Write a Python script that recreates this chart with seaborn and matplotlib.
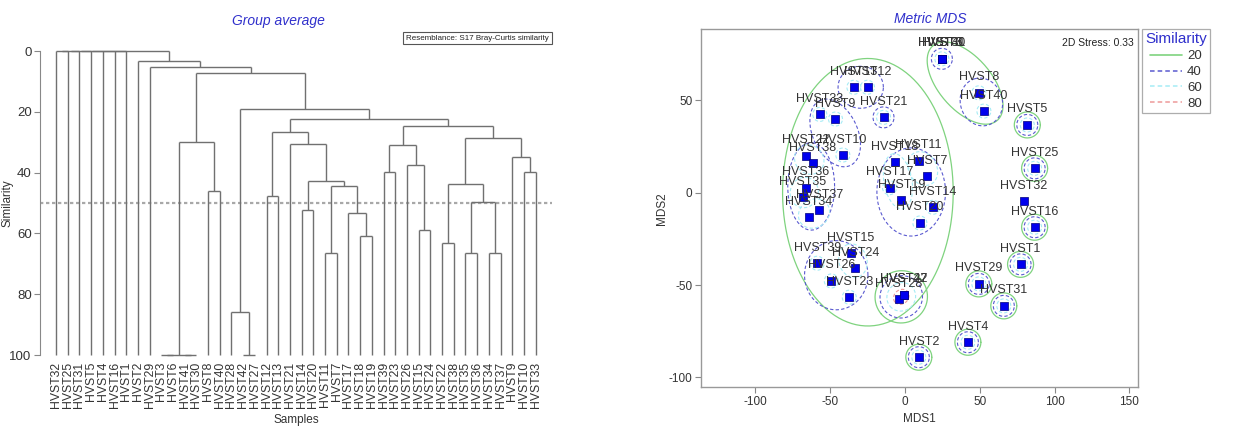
import numpy as np
import matplotlib
matplotlib.use("Agg")
import matplotlib.pyplot as plt
import seaborn as sns
import pandas as pd
from matplotlib import font_manager as fm
from matplotlib.lines import Line2D

# ---------------- dendrogram data ----------------
leaf_order = ["HVST32", "HVST25", "HVST31", "HVST5", "HVST4", "HVST16", "HVST1", "HVST2",
              "HVST29", "HVST3", "HVST6", "HVST41", "HVST30", "HVST8", "HVST40", "HVST28",
              "HVST42", "HVST27", "HVST12", "HVST13", "HVST21", "HVST14", "HVST20", "HVST11",
              "HVST7", "HVST17", "HVST18", "HVST19", "HVST39", "HVST23", "HVST26", "HVST15",
              "HVST24", "HVST22", "HVST38", "HVST35", "HVST36", "HVST34", "HVST37", "HVST9",
              "HVST10", "HVST33"]
# merges: child a, child b ("#k" = result of merge k), similarity
merge_a = ["HVST3", "HVST41", "#0", "HVST8", "#2", "HVST42", "HVST28", "HVST12", "HVST14",
           "HVST11", "HVST18", "HVST17", "#9", "#8", "HVST21", "#7", "HVST39", "HVST15",
           "HVST26", "#16", "HVST22", "HVST35", "HVST34", "#21", "#20", "HVST10", "HVST9",
           "#24", "#19", "#15", "#6", "#4", "HVST29", "HVST2", "HVST32", "#34", "#35", "#36",
           "#37", "#38", "#39"]
merge_b = ["HVST6", "HVST30", "#1", "HVST40", "#3", "HVST27", "#5", "HVST13", "HVST20",
           "HVST7", "HVST19", "#10", "#11", "#12", "#13", "#14", "HVST23", "HVST24", "#17",
           "#18", "HVST38", "HVST36", "HVST37", "#22", "#23", "HVST33", "#25", "#26", "#27",
           "#28", "#29", "#30", "#31", "#32", "HVST25", "HVST31", "HVST5", "HVST4", "HVST16",
           "HVST1", "#33"]
merge_sim = [100, 100, 100, 46.0, 30.0, 100, 85.9, 47.6, 52.3, 66.5, 60.9, 53.2, 44.3, 42.6,
             30.7, 26.8, 39.7, 58.9, 37.6, 31.0, 63.0, 66.5, 66.5, 49.6, 43.9, 39.8, 34.8, 28.7,
             24.7, 22.4, 19.2, 7.2, 5.1, 3.3, 0, 0, 0, 0, 0, 0, 0]
slice_level = 50
sim_ticks = [0, 20, 40, 60, 80, 100]

# ---------------- MDS data ----------------
mds_labels = ["HVST1", "HVST2", "HVST3", "HVST4", "HVST5", "HVST6", "HVST7", "HVST8", "HVST9",
              "HVST10", "HVST11", "HVST12", "HVST13", "HVST14", "HVST15", "HVST16", "HVST17",
              "HVST18", "HVST19", "HVST20", "HVST21", "HVST22", "HVST23", "HVST24", "HVST25",
              "HVST26", "HVST27", "HVST28", "HVST29", "HVST30", "HVST31", "HVST32", "HVST33",
              "HVST34", "HVST35", "HVST36", "HVST37", "HVST38", "HVST39", "HVST40", "HVST41",
              "HVST42"]
mds1 = [77.2, 9.2, 24.6, 42.0, 81.7, 24.6, 14.6, 49.3, -46.5, -41.6, 9.0, -25.1, -34.2, 18.6,
        -36.4, 86.6, -10.4, -7.0, -2.5, 9.9, -14.4, -66.5, -37.3, -33.3, 86.6, -49.3, -0.8,
        -4.3, 49.3, 24.6, 66.0, 79.4, -57.0, -64.5, -68.3, -66.5, -57.2, -61.6, -58.7, 52.7,
        24.6, -0.8]
mds2 = [-38.8, -89.1, 72.5, -81.0, 36.7, 72.5, 9.0, 54.1, 39.9, 20.4, 17.2, 57.1, 57.1, -7.9,
        -32.8, -18.7, 2.7, 16.5, -4.1, -16.4, 40.8, 20.0, -56.6, -40.9, 13.2, -47.8, -55.2,
        -57.6, -49.4, 72.5, -61.3, -4.6, 42.4, -13.2, -2.5, 2.7, -9.4, 15.9, -38.2, 44.2,
        72.5, -55.2]
stress = 0.33
mds_xticks = [-100, -50, 0, 50, 100, 150]
mds_yticks = [-100, -50, 0, 50]

contour_levels = [20, 40, 60, 80]
ringed_singles = ["HVST5", "HVST25", "HVST16", "HVST1", "HVST29", "HVST31", "HVST4", "HVST2"]
groups_20 = [["HVST3", "HVST6", "HVST41", "HVST30", "HVST8", "HVST40"],
             ["HVST28", "HVST42", "HVST27"],
             ["HVST12", "HVST13", "HVST21", "HVST14", "HVST20", "HVST11", "HVST7", "HVST17",
              "HVST18", "HVST19", "HVST39", "HVST23", "HVST26", "HVST15", "HVST24", "HVST22",
              "HVST38", "HVST35", "HVST36", "HVST34", "HVST37", "HVST9", "HVST10", "HVST33"]]
groups_40 = [["HVST3", "HVST6", "HVST41", "HVST30"], ["HVST8", "HVST40"],
             ["HVST28", "HVST42", "HVST27"], ["HVST12", "HVST13"], ["HVST21"],
             ["HVST33", "HVST9", "HVST10"],
             ["HVST22", "HVST38", "HVST36", "HVST35", "HVST37", "HVST34"],
             ["HVST18", "HVST11", "HVST7", "HVST17", "HVST19", "HVST14", "HVST20"],
             ["HVST39", "HVST26", "HVST23", "HVST15", "HVST24"]]
groups_60 = [["HVST3", "HVST6", "HVST41", "HVST30"], ["HVST28", "HVST42", "HVST27"],
             ["HVST11", "HVST7"], ["HVST18", "HVST19"], ["HVST22", "HVST38"],
             ["HVST35", "HVST36"], ["HVST34", "HVST37"], ["HVST15", "HVST24"],
             ["HVST12"], ["HVST13"], ["HVST21"], ["HVST33"], ["HVST9"], ["HVST10"],
             ["HVST14"], ["HVST20"], ["HVST17"], ["HVST39"], ["HVST26"], ["HVST23"],
             ["HVST8"], ["HVST40"]]
groups_80 = [["HVST3", "HVST6", "HVST41", "HVST30"], ["HVST28", "HVST42", "HVST27"]]

# ---------------- style ----------------
sns.set_theme(style="ticks")
names = {f.name for f in fm.fontManager.ttflist}
base = "Liberation Sans" if "Liberation Sans" in names else "DejaVu Sans"
narrow = "Liberation Sans Narrow" if "Liberation Sans Narrow" in names else base
plt.rcParams["font.family"] = [base, "DejaVu Sans"]

title_blue = "#3030cc"
line_gray = "#707070"
level_styles = {20: dict(color="#7fd37f", ls="-", lw=0.9, pad=13.0),
                40: dict(color="#5a5ad0", ls=(0, (3, 2)), lw=0.8, pad=10.5),
                60: dict(color="#a6ecf5", ls=(0, (3, 2)), lw=0.8, pad=7.0),
                80: dict(color="#ee9a9a", ls=(0, (3, 2)), lw=0.8, pad=3.5)}

fig = plt.figure(figsize=(12.5, 4.28), dpi=100)
W, H = 1250, 428

# ================= Dendrogram =================
ax1 = fig.add_axes([40 / W, 1 - 355 / H, 512 / W, 304 / H])
pos = {n: i for i, n in enumerate(leaf_order)}
height = {n: 100.0 for n in leaf_order}
for k, (a, b, s) in enumerate(zip(merge_a, merge_b, merge_sim)):
    xa, xb = pos[a], pos[b]
    ya, yb = height[a], height[b]
    ax1.plot([xa, xa], [ya, s], color=line_gray, lw=1.0, clip_on=False, solid_capstyle="butt")
    ax1.plot([xb, xb], [yb, s], color=line_gray, lw=1.0, clip_on=False, solid_capstyle="butt")
    ax1.plot([xa, xb], [s, s], color=line_gray, lw=1.0, clip_on=False, solid_capstyle="butt")
    pos["#%d" % k] = (xa + xb) / 2
    height["#%d" % k] = s

ax1.axhline(slice_level, color="#a8a8a8", lw=1.6, ls=(0, (1.5, 1.2)), zorder=0)
ax1.set_xlim(-1.37, 42.4)
ax1.set_ylim(100, 0)
ax1.set_yticks(sim_ticks)
ax1.set_yticklabels([str(t) for t in sim_ticks], fontsize=9.5, family=narrow, color="#333333")
ax1.set_xticks(range(len(leaf_order)))
ax1.set_xticklabels(leaf_order, rotation=90, fontsize=8.8, color="#333333")
ax1.tick_params(axis="x", length=0, pad=5)
ax1.tick_params(axis="y", length=4, width=0.8, color="#888888", pad=2)
for sp in ["top", "right", "bottom"]:
    ax1.spines[sp].set_visible(False)
ax1.spines["left"].set_color("#888888")
ax1.spines["left"].set_linewidth(0.8)
ax1.set_xlabel("Samples", fontsize=8.5, family=narrow, color="#333333")
ax1.set_ylabel("Similarity", fontsize=8.5, family=narrow, color="#333333")
ax1.yaxis.set_label_coords((14 - 40) / 512, 0.5)
ax1.xaxis.set_label_coords(0.5, -(414 - 355) / 304)
fig.text(278 / W, 1 - 21 / H, "Group average", ha="center", va="center", fontsize=10,
         family=narrow, style="italic", color=title_blue)
fig.text(549 / W, 1 - 38 / H, "Resemblance: S17 Bray-Curtis similarity", ha="right",
         va="center", fontsize=5.8, family=narrow, color="#222222",
         bbox=dict(boxstyle="square,pad=0.35", fc="white", ec="#555555", lw=0.8))

# ================= Metric MDS =================
ax2 = fig.add_axes([700.7 / W, 1 - 387.3 / H, 437 / W, 358 / H])
ax2.set_xlim(-136.6, 155.5)
ax2.set_ylim(-105.4, 88.5)
df = pd.DataFrame({"sample": mds_labels, "MDS1": mds1, "MDS2": mds2})
coord = {r.sample: (r.MDS1, r.MDS2) for r in df.itertuples()}


def draw_ring(ax, names_in, style):
    P = ax.transData.transform(np.array([coord[n] for n in names_in], dtype=float))
    U = np.unique(np.round(P, 2), axis=0)
    pad = style["pad"]
    if len(U) == 1:
        center, a, b = U[0], pad, pad
        major, minor = np.array([1.0, 0.0]), np.array([0.0, 1.0])
    else:
        c0 = U.mean(axis=0)
        if len(U) >= 5:
            major, minor = np.array([1.0, 0.0]), np.array([0.0, 1.0])
        else:
            cov = np.cov((U - c0).T) if len(U) > 2 else np.outer(U[1] - U[0], U[1] - U[0])
            evals, evecs = np.linalg.eigh(cov)
            major, minor = evecs[:, -1], evecs[:, 0]
        u = (U - c0) @ major
        v = (U - c0) @ minor
        center = c0 + (u.max() + u.min()) / 2 * major + (v.max() + v.min()) / 2 * minor
        hu, hv = (u.max() - u.min()) / 2, (v.max() - v.min()) / 2
        gp = pad * 2.0
        a, b = np.hypot(hu * 1.25, gp), np.hypot(hv * 1.25, gp)
    t = np.linspace(0, 2 * np.pi, 240)
    E = center + (a * np.cos(t))[:, None] * major + (b * np.sin(t))[:, None] * minor
    D = ax.transData.inverted().transform(E)
    ax.plot(D[:, 0], D[:, 1], color=style["color"], ls=style["ls"], lw=style["lw"], zorder=2)


level_groups = {20: groups_20 + [[s] for s in ringed_singles],
                40: groups_40 + [[s] for s in ringed_singles],
                60: groups_60 + [[s] for s in ringed_singles],
                80: groups_80}
for lev in contour_levels:
    for g in level_groups[lev]:
        draw_ring(ax2, g, level_styles[lev])

sns.scatterplot(data=df, x="MDS1", y="MDS2", marker="s", s=27, color="#0000ee",
                edgecolor="#00007a", linewidth=0.5, ax=ax2, zorder=5, legend=False)
for r in df.itertuples():
    ax2.annotate(r.sample, (r.MDS1, r.MDS2), xytext=(0, 15.5), textcoords="offset pixels",
                 ha="center", va="center", fontsize=9, family=narrow, color="#333333",
                 zorder=6)

ax2.set_xticks(mds_xticks)
ax2.set_yticks(mds_yticks)
ax2.set_xticklabels([str(t) for t in mds_xticks], fontsize=8.5, family=narrow, color="#333333")
ax2.set_yticklabels([str(t) for t in mds_yticks], fontsize=8.5, family=narrow, color="#333333")
ax2.tick_params(length=4, width=0.8, color="#888888", pad=2)
for sp in ax2.spines.values():
    sp.set_color("#999999")
    sp.set_linewidth(1.0)
ax2.set_xlabel("MDS1", fontsize=8.5, family=narrow, color="#333333", labelpad=4)
ax2.set_ylabel("MDS2", fontsize=8.5, family=narrow, color="#333333")
ax2.yaxis.set_label_coords((668 - 700.7) / 437, 0.5)
ax2.text(0.99, 0.975, "2D Stress: %.2f" % stress, transform=ax2.transAxes, ha="right",
         va="top", fontsize=7.5, family=narrow, color="#222222")
fig.text(930 / W, 1 - 18.7 / H, "Metric MDS", ha="center", va="center", fontsize=10,
         family=narrow, style="italic", color=title_blue)

handles = [Line2D([], [], color=level_styles[l]["color"], ls=level_styles[l]["ls"],
                  lw=level_styles[l]["lw"] + 0.3) for l in contour_levels]
leg = ax2.legend(handles, [str(l) for l in contour_levels], loc="upper left",
                 bbox_to_anchor=(1141.7 / W, 1 - 29 / H), bbox_transform=fig.transFigure,
                 title="Similarity", fontsize=9.5, title_fontsize=11, handlelength=2.4,
                 handletextpad=0.4, borderpad=0.25, labelspacing=0.28, frameon=True,
                 fancybox=False, edgecolor="#999999", borderaxespad=0)
leg.get_frame().set_linewidth(0.9)
leg.get_title().set_color(title_blue)
leg.get_title().set_family(narrow)
for txt in leg.get_texts():
    txt.set_family(narrow)
    txt.set_color("#333333")

fig.savefig("out.png", dpi=100, facecolor="white")
